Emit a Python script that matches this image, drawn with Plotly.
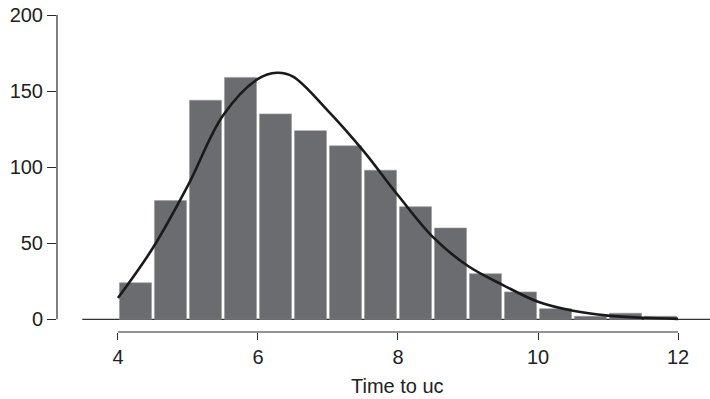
import plotly.graph_objects as go

# Histogram bins (left edges), width 0.5
bin_left = [4.0, 4.5, 5.0, 5.5, 6.0, 6.5, 7.0, 7.5, 8.0, 8.5, 9.0, 9.5, 10.0, 10.5, 11.0, 11.5]
counts = [24, 78, 144, 159, 135, 124, 114, 98, 74, 60, 30, 18, 7, 2, 4, 2]
bin_width = 0.5

# Fitted density curve
curve_x = [4.0, 4.5, 5.0, 5.5, 6.0, 6.27, 6.5, 7.0, 7.5, 8.0, 8.5, 9.0, 9.5, 10.0, 10.5, 11.0, 11.5, 12.0]
curve_y = [14, 47, 88, 134, 158, 162, 159.5, 137, 111, 81.5, 54, 35, 22.5, 11.5, 5.6, 2.4, 1.0, 0.3]

x_ticks = [4, 6, 8, 10, 12]
y_ticks = [0, 50, 100, 150, 200]

FONT = "Liberation Sans, Arial, Helvetica, sans-serif"
AXC = "#2a2a2a"

fig = go.Figure()
fig.add_trace(go.Bar(
    x=[b + bin_width / 2 for b in bin_left], y=counts, width=bin_width * 0.915,
    marker=dict(color="#6b6c70", line=dict(color="#9a9a9c", width=0.6)),
    showlegend=False, hoverinfo="skip",
))
fig.add_trace(go.Scatter(
    x=curve_x, y=curve_y, mode="lines",
    line=dict(color="#1a1a1a", width=2.6, shape="spline", smoothing=1.0),
    showlegend=False, hoverinfo="skip",
))

plot_top, plot_bottom = 15, 332

fig.update_layout(
    width=710, height=399,
    margin=dict(l=57, r=0, t=plot_top, b=399 - plot_bottom, autoexpand=False),
    paper_bgcolor="white", plot_bgcolor="white",
    font=dict(family=FONT, size=20, color="#222"),
    xaxis=dict(range=[3.129, 12.457], tickvals=x_ticks, ticks="outside", ticklen=7,
               tickcolor=AXC, tickwidth=1.2, showgrid=False, zeroline=False,
               showline=False, automargin=False, tickfont=dict(size=20)),
    yaxis=dict(range=[-8.35, 200], tickvals=y_ticks, ticks="outside", ticklen=9,
               tickcolor=AXC, tickwidth=1.2, showgrid=False, zeroline=False,
               showline=False, automargin=False, tickfont=dict(size=20)),
    shapes=[
        dict(type="line", xref="x", yref="paper", x0=4, x1=12, y0=0, y1=0,
             line=dict(color=AXC, width=1.2)),
        dict(type="line", xref="paper", yref="y", x0=0, x1=0, y0=0, y1=200,
             line=dict(color=AXC, width=1.2)),
        dict(type="line", xref="x", yref="y", x0=3.49, x1=12.457, y0=0, y1=0,
             line=dict(color="#333", width=1.2), layer="below"),
    ],
    annotations=[
        dict(text="Time to uc", x=8, xref="x",
             y=(plot_bottom - 386) / (plot_bottom - plot_top), yref="paper",
             yanchor="middle", showarrow=False,
             font=dict(size=20, color="#222")),
    ],
)

fig.write_html("out.html", config={"displayModeBar": False},
               post_script="document.body.style.margin='0';document.body.style.overflow='hidden';")
